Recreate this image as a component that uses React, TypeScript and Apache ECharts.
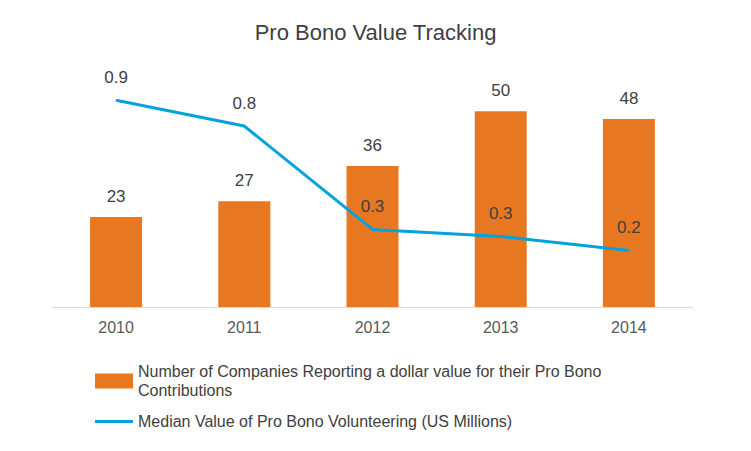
import React, { useEffect, useRef } from 'react';
import * as echarts from 'echarts';

const years = ['2010', '2011', '2012', '2013', '2014'];
const companies = [23, 27, 36, 50, 48];
const medianValue = [0.88, 0.77, 0.33, 0.3, 0.24];

const barName = 'Number of Companies Reporting a dollar value for their Pro Bono\nContributions';
const lineName = 'Median Value of Pro Bono Volunteering (US Millions)';

const App: React.FC = () => {
  const chartRef = useRef<HTMLDivElement>(null);

  useEffect(() => {
    if (!chartRef.current) return;
    const chart = echarts.init(chartRef.current, undefined, { renderer: 'svg' });
    const font = 'Liberation Sans, Arial, sans-serif';
    chart.setOption({
      animation: false,
      textStyle: { fontFamily: font },
      title: {
        text: 'Pro Bono Value Tracking',
        left: 'center',
        top: 8,
        textStyle: { fontFamily: font, fontSize: 22, fontWeight: 'normal', color: '#404040' },
      },
      legend: {
        orient: 'vertical',
        left: 82,
        top: 349,
        itemWidth: 38,
        itemHeight: 15,
        itemGap: 12,
        textStyle: { fontFamily: font, fontSize: 16, color: '#404040', lineHeight: 19 },
        data: [
          { name: barName, icon: 'rect' },
          { name: lineName, icon: 'path://M0,0 L38,0 L38,3 L0,3 Z' },
        ],
      },
      grid: { left: 44, right: 50, top: 64, bottom: 152 },
      xAxis: {
        type: 'category',
        data: years,
        axisTick: { show: false },
        axisLine: { lineStyle: { color: '#d9d9d9' } },
        axisLabel: { fontSize: 16, color: '#595959', margin: 12 },
      },
      yAxis: [
        { type: 'value', min: 0, max: 60, show: false },
        { type: 'value', min: 0, max: 1, show: false },
      ],
      series: [
        {
          name: barName,
          type: 'bar',
          data: companies,
          barWidth: 52,
          itemStyle: { color: '#e87722' },
          label: { show: true, position: 'top', distance: 12, fontSize: 17, color: '#404040' },
        },
        {
          name: lineName,
          type: 'line',
          yAxisIndex: 1,
          data: medianValue,
          symbol: 'circle',
          symbolSize: 1,
          showSymbol: true,
          lineStyle: { color: '#00a3dc', width: 3 },
          itemStyle: { color: '#00a3dc' },
          label: {
            show: true,
            position: 'top',
            distance: 14,
            fontSize: 17,
            color: '#404040',
            formatter: (p: any) => Number(p.value).toFixed(1),
          },
        },
      ],
    });
    return () => chart.dispose();
  }, []);

  return <div ref={chartRef} style={{ width: 735, height: 451 }} />;
};

export default App;
